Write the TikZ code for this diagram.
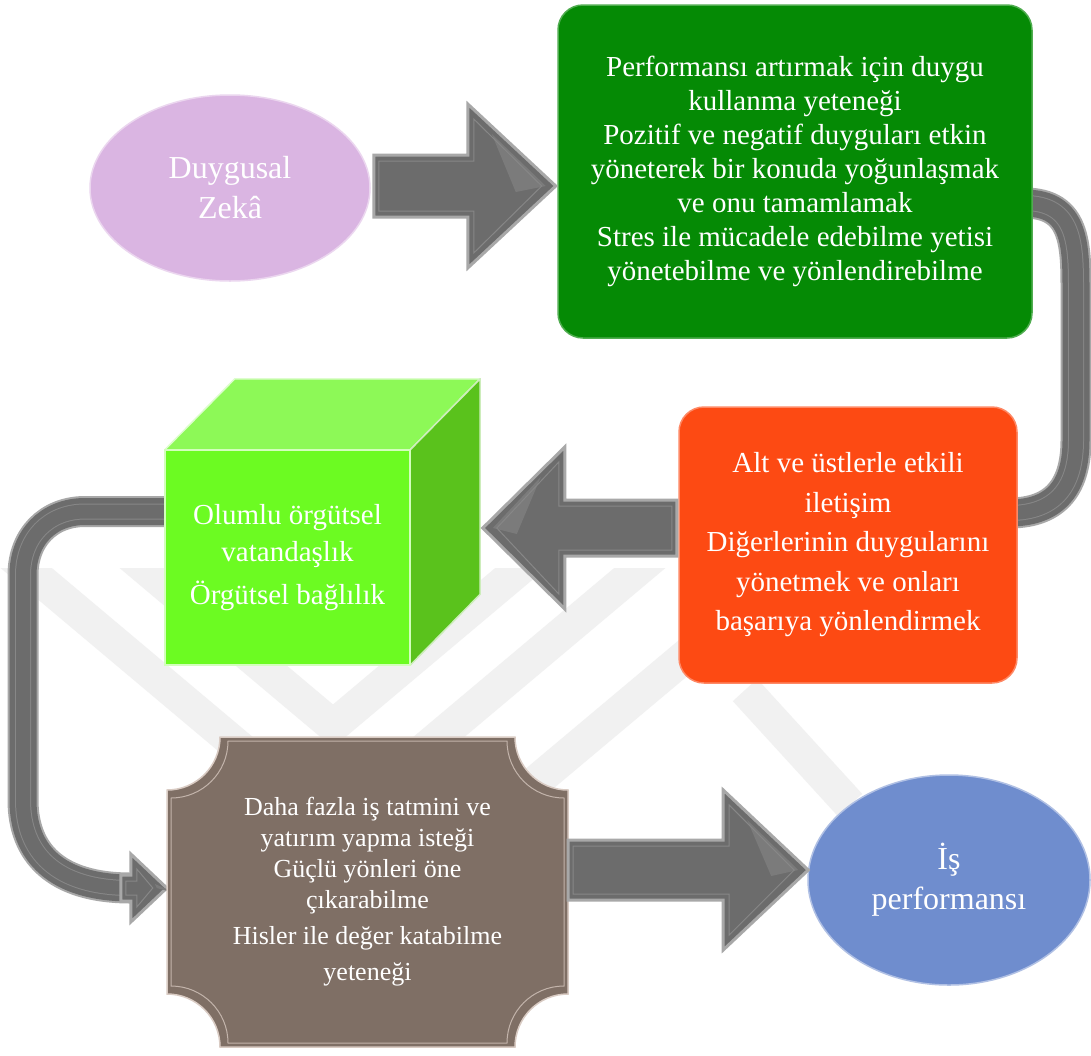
\documentclass[tikz,border=0pt]{standalone}
\usepackage{fontspec}
\setmainfont{Liberation Serif}
\usetikzlibrary{calc,shapes.geometric}

\definecolor{zekafill}{HTML}{DAB5E2}
\definecolor{greenbox}{HTML}{058A05}
\definecolor{orangebox}{HTML}{FD4A13}
\definecolor{cubefront}{HTML}{6CFB22}
\definecolor{cubetop}{HTML}{8DF957}
\definecolor{cubeside}{HTML}{5AC21C}
\definecolor{plaquefill}{HTML}{7F6F65}
\definecolor{plaqueedge}{HTML}{D9CBC3}
\definecolor{perffill}{HTML}{6F8DCE}
\definecolor{arrowbody}{HTML}{6C6C6C}
\definecolor{arrowrim}{HTML}{A8A8A8}
\definecolor{arrowline}{HTML}{878787}
\definecolor{arrowshine}{HTML}{7B7B7B}
\definecolor{wmgray}{HTML}{F1F1F1}

% block arrow: origin, length, shaft half height, head half height, head length, direction (1 or -1)
\newcommand{\blockarrow}[6]{%
  \begin{scope}[shift={(#1)}, xscale=#6]
    \filldraw[arrowface] (0,-#3) -- ({#2-#5},-#3) -- ({#2-#5},-#4) -- (#2,0)
      -- ({#2-#5},#4) -- ({#2-#5},#3) -- (0,#3) -- cycle;
    \fill[arrowshine] ({#2-#5+24},{-#4+30}) -- ({#2-10},0) -- ({#2-#5+48},6) -- cycle;
    \draw[arrowline, line width=1, line join=miter] (5,{-#3+6}) -- ({#2-#5+6},{-#3+6})
      -- ({#2-#5+6},{-#4+15}) -- ({#2-14},0) -- ({#2-#5+6},{#4-15})
      -- ({#2-#5+6},{#3-6}) -- (5,{#3-6}) -- cycle;
  \end{scope}}

% rectangle with concave rounded corners: x1, y1, x2, y2, radius, control length
\newcommand{\plaquepath}[6]{%
  ({#1+#5},#2) -- ({#3-#5},#2) .. controls +(0,#6) and +(-#6,0) .. (#3,{#2+#5})
  -- (#3,{#4-#5}) .. controls +(-#6,0) and +(0,-#6) .. ({#3-#5},#4)
  -- ({#1+#5},#4) .. controls +(0,-#6) and +(#6,0) .. (#1,{#4-#5})
  -- (#1,{#2+#5}) .. controls +(#6,0) and +(0,#6) .. ({#1+#5},#2) -- cycle}

\tikzset{
  lbl/.style={text=white, align=center, inner sep=0pt},
  arrowface/.style={draw=arrowrim, fill=arrowbody, line width=3, line join=miter},
  bandstroke/.style={draw=arrowrim, line width=31,
    postaction={draw=arrowbody, line width=27},
    postaction={draw=arrowline, line width=16},
    postaction={draw=arrowbody, line width=14}},
  wmband/.style={draw=wmgray, line width=33, line join=miter},
}

\begin{document}
\begin{tikzpicture}[x=1pt,y=-1pt]
\useasboundingbox (0,0) rectangle (1091,1055);
\fill[white] (0,0) rectangle (1091,1055);

% faint background emblem
\begin{scope}
  \clip (0,568) rectangle (1091,1055);
  \draw[wmband] (100,530) -- (333,726) -- (566,530);
  \draw[wmband] (-19,530) -- (333,826) -- (685,530);
  \draw[wmband] (520,795) -- (800,560);
  \draw[wmband] (745,690) -- (850,805);
\end{scope}

% shapes (placed first so the curved bands can run beneath them)
\node[ellipse, fill=zekafill, draw=white!45!zekafill, line width=1.5,
      minimum width=280, minimum height=186, lbl,
      font=\fontsize{32}{40}\selectfont] (zeka) at (230,188) {Duygusal\\Zekâ};

\node[rectangle, rounded corners=25, minimum width=474, minimum height=333] (green) at (795,171.5) {};
\node[rectangle, rounded corners=25, minimum width=338, minimum height=276] (orange) at (848,545) {};
\node[rectangle, minimum width=245, minimum height=215] (cube) at (287.5,557.5) {};
\node[rectangle, minimum width=401, minimum height=310] (plaque) at (367.5,892) {};
\node[ellipse, minimum width=282, minimum height=210] (perf) at (949,880) {};

% curved band on the right: green box to orange box
\coordinate (rb1) at ($(green.east)+(-8,31.5)$);
\coordinate (rb2) at ($(orange.east)+(-8,-32)$);
\draw[bandstroke] (rb1) .. controls (1076,203) and (1076,245) .. (1076,292)
  -- (1076,440) .. controls (1076,484) and (1058,513) .. (rb2);

% curved band on the left: cube to plaque
\coordinate (lb1) at ($(cube.west)+(8,-46)$);
\coordinate (lb2) at ($(plaque.west)+(-36,-4)$);
\draw[bandstroke] (lb1) -- (85,511.5) .. controls (48,511.5) and (23,538) .. (23,575)
  -- (23,800) .. controls (23,852) and (55,888) .. (lb2);
\coordinate (lbh) at ($(lb2)+(-10,0)$);
\blockarrow{lbh}{46}{13}{34}{36}{1}

% boxes drawn over the band ends
\node[rectangle, rounded corners=25, fill=greenbox, draw=white!30!greenbox, line width=1.5,
      minimum width=474, minimum height=333, lbl,
      font=\fontsize{29}{34}\selectfont] at (green.center)
  {Performansı artırmak için duygu\\kullanma yeteneği\\Pozitif ve negatif duyguları etkin\\yöneterek bir konuda yoğunlaşmak\\ve onu tamamlamak\\Stres ile mücadele edebilme yetisi\\yönetebilme ve yönlendirebilme};

\node[rectangle, rounded corners=25, fill=orangebox, draw=white!35!orangebox, line width=1.5,
      minimum width=338, minimum height=276, lbl,
      font=\fontsize{29}{39.5}\selectfont] at (orange.center)
  {Alt ve üstlerle etkili\\iletişim\\Diğerlerinin duygularını\\yönetmek ve onları\\başarıya yönlendirmek};

% cube
\filldraw[fill=cubetop, draw=white!70!cubetop, line width=1.5, line join=round]
  (cube.north west) -- ++(70,-71) -- ($(cube.north east)+(70,-71)$) -- (cube.north east) -- cycle;
\filldraw[fill=cubeside, draw=white!70!cubeside, line width=1.5, line join=round]
  (cube.north east) -- ++(70,-71) -- ($(cube.south east)+(70,-71)$) -- (cube.south east) -- cycle;
\node[rectangle, fill=cubefront, draw=white!70!cubefront, line width=1.5,
      minimum width=245, minimum height=215, lbl,
      font=\fontsize{29}{37}\selectfont] at (cube.center)
  {Olumlu örgütsel\\vatandaşlık\\[6pt]Örgütsel bağlılık};

% plaque
\filldraw[fill=plaquefill, draw=plaqueedge, line width=1.5]
  \plaquepath{167}{737}{568}{1047}{53}{29.3};
\draw[draw=plaqueedge!75!plaquefill, line width=1]
  \plaquepath{171}{741}{564}{1043}{57}{31.5};
\node[lbl, font=\fontsize{26}{31}\selectfont] at (plaque.center)
  {Daha fazla iş tatmini ve\\yatırım yapma isteği\\Güçlü yönleri öne\\çıkarabilme\\[5pt]Hisler ile değer katabilme\\[5pt]yeteneği};

% performance ellipse
\node[ellipse, fill=perffill, draw=white!45!perffill, line width=1.5,
      minimum width=282, minimum height=210, lbl,
      font=\fontsize{32}{40}\selectfont] at (perf.center) {İş\\performansı};

% straight block arrows
\coordinate (a1) at ($(zeka.east)+(3,-2)$);
\blockarrow{a1}{182}{31}{82}{88}{1}
\coordinate (a2) at ($(orange.west)+(-2,-17)$);
\blockarrow{a2}{194}{28}{81}{82}{-1}
\coordinate (a3) at ($(plaque.east)+(0,-22)$);
\blockarrow{a3}{240}{30}{80}{85}{1}

\end{tikzpicture}
\end{document}
